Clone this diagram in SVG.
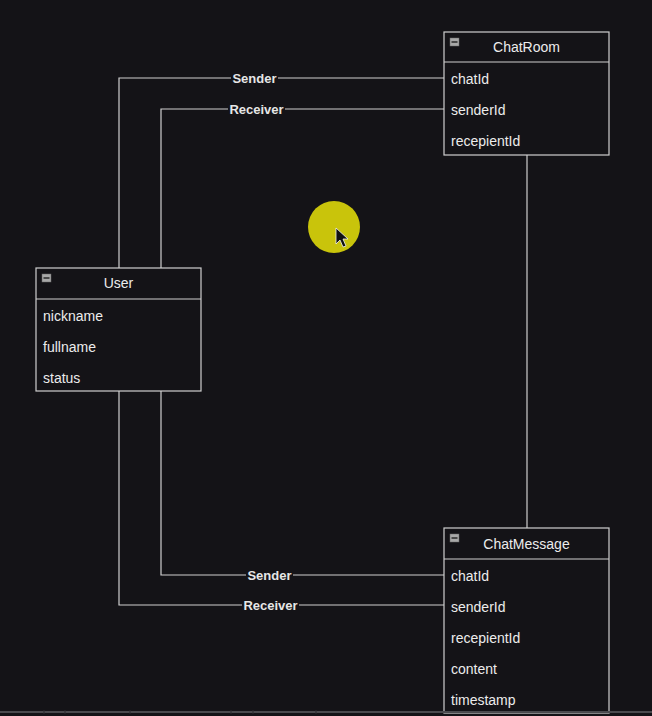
<svg xmlns="http://www.w3.org/2000/svg" width="652" height="716" viewBox="0 0 652 716">
<style>
.bg{fill:#141317}
.box{fill:#141317;stroke:#cfcfcf;stroke-width:1.2}
.sep{stroke:#cfcfcf;stroke-width:1.2}
.title{font-family:"Liberation Sans",Arial,sans-serif;font-size:14px;fill:#ececec;text-anchor:middle}
.attr{font-family:"Liberation Sans",Arial,sans-serif;font-size:14px;fill:#ececec}
.edge{fill:none;stroke:#cfcfcf;stroke-width:1.2}
.lbl{font-family:"Liberation Sans",Arial,sans-serif;font-size:13px;font-weight:bold;fill:#e6e6e6;text-anchor:middle}
.lblbg{fill:#141317}
.icon{fill:#a8a8a8;stroke:#6a6a6a;stroke-width:0.5}
.iconbar{stroke:#2a2a2a;stroke-width:1.5}
</style>
<rect class="bg" x="0" y="0" width="652" height="716"/>
<g id="connectors">
<polyline class="edge" points="119,268 119,78 444,78"/>
<polyline class="edge" points="161,268 161,109 444,109"/>
<polyline class="edge" points="527,155 527,528"/>
<polyline class="edge" points="161,391 161,575 444,575"/>
<polyline class="edge" points="119,391 119,605 444,605"/>
<rect class="lblbg" x="231" y="71" width="47" height="14"/>
<text class="lbl" x="254.5" y="82.5">Sender</text>
<rect class="lblbg" x="228" y="102" width="57" height="14"/>
<text class="lbl" x="256.5" y="113.5">Receiver</text>
<rect class="lblbg" x="246" y="568" width="47" height="14"/>
<text class="lbl" x="269.5" y="579.5">Sender</text>
<rect class="lblbg" x="242" y="598" width="57" height="14"/>
<text class="lbl" x="270.5" y="609.5">Receiver</text>
</g>
<g id="ChatRoom">
<rect class="box" x="444" y="32" width="165" height="123"/>
<line class="sep" x1="444" y1="62" x2="609" y2="62"/>
<rect class="icon" x="450" y="38" width="9" height="8"/>
<line class="iconbar" x1="451.5" y1="42" x2="457.5" y2="42"/>
<text class="title" x="526.5" y="52">ChatRoom</text>
<text class="attr" x="451" y="84">chatId</text>
<text class="attr" x="451" y="115">senderId</text>
<text class="attr" x="451" y="146">recepientId</text>
</g>
<g id="User">
<rect class="box" x="36" y="268" width="165" height="123"/>
<line class="sep" x1="36" y1="299" x2="201" y2="299"/>
<rect class="icon" x="42" y="274" width="9" height="8"/>
<line class="iconbar" x1="43.5" y1="278" x2="49.5" y2="278"/>
<text class="title" x="118.5" y="288">User</text>
<text class="attr" x="43" y="321">nickname</text>
<text class="attr" x="43" y="352">fullname</text>
<text class="attr" x="43" y="383">status</text>
</g>
<g id="ChatMessage">
<rect class="box" x="444" y="528" width="165" height="185"/>
<line class="sep" x1="444" y1="559" x2="609" y2="559"/>
<rect class="icon" x="450" y="534" width="9" height="8"/>
<line class="iconbar" x1="451.5" y1="538" x2="457.5" y2="538"/>
<text class="title" x="526.5" y="549">ChatMessage</text>
<text class="attr" x="451" y="581">chatId</text>
<text class="attr" x="451" y="612">senderId</text>
<text class="attr" x="451" y="643">recepientId</text>
<text class="attr" x="451" y="674">content</text>
<text class="attr" x="451" y="705">timestamp</text>
</g>
<g id="cursor">
<circle cx="334" cy="227" r="26" fill="#c9c40b"/>
<polygon points="336,228 336,244 340,240 343,247 346,246 343,239 348,239" fill="#111" stroke="#f0f0f0" stroke-width="0.8"/>
</g>
<g id="bottombar">
<rect x="0" y="711" width="652" height="2" fill="#4a4a4e"/>
<g stroke="#2a2a2e" stroke-width="1">
<line x1="44" y1="710" x2="44" y2="714"/>
<line x1="65" y1="710" x2="65" y2="714"/>
<line x1="130" y1="710" x2="130" y2="714"/>
<line x1="231" y1="710" x2="231" y2="714"/>
<line x1="253" y1="710" x2="253" y2="714"/>
<line x1="316" y1="710" x2="316" y2="714"/>
</g>
</g>
</svg>
